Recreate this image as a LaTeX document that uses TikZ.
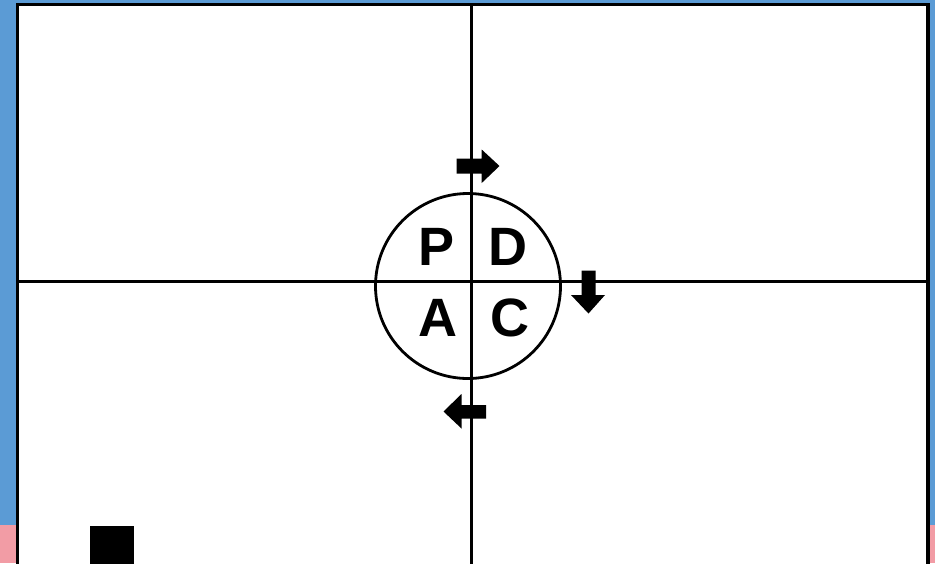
\documentclass[tikz,border=0pt]{standalone}
\usepackage{fontspec}
\setmainfont{Liberation Sans}
\definecolor{bgblue}{HTML}{5B9BD5}
\definecolor{bgpink}{HTML}{F29CA5}
\begin{document}
\begin{tikzpicture}[x=1pt,y=-1pt,
  letter/.style={font=\fontsize{54}{54}\selectfont\bfseries, inner sep=0pt, anchor=center},
  blockarrow/.style={fill=black, draw=none},
  axis/.style={line width=2.3pt, draw=black}]
\useasboundingbox (0,0) rectangle (935,563);
\begin{scope}
\clip (0,0) rectangle (935,563);
\fill[bgblue] (0,0) rectangle (935,563);
\fill[bgpink] (0,525) rectangle (935,563);
\filldraw[fill=white, draw=black, line width=3.5pt] (17.5,4.5) rectangle (928,590);
\coordinate (T) at (471.5,6);
\coordinate (B) at (471.5,570);
\coordinate (L) at (19,281.5);
\coordinate (R) at (926,281.5);
\draw[axis] (T) -- (B);
\draw[axis] (L) -- (R);
\node[circle, draw, line width=2.8pt, minimum size=185pt, inner sep=0pt] (cyc) at (468,286) {};
\node[letter] (P) at (436.5,246.5) {P};
\node[letter] (D) at (508,246.5) {D};
\node[letter] (A) at (437.5,318) {A};
\node[letter] (C) at (510,318) {C};
% arrows
\fill[blockarrow] (456.7,158.5) -- (481.7,158.5) -- (481.7,149.5) -- (499.5,166) -- (481.7,183) -- (481.7,173.5) -- (456.7,173.5) -- cycle;
\fill[blockarrow] (581.5,270.5) -- (595.5,270.5) -- (595.5,295) -- (605,295) -- (588.5,313.5) -- (571,295) -- (581.5,295) -- cycle;
\fill[blockarrow] (486,405) -- (461.5,405) -- (461.5,394) -- (443.5,411.5) -- (461.5,428.5) -- (461.5,418.5) -- (486,418.5) -- cycle;
\fill[black] (90,526) rectangle (134,570);
\end{scope}
\end{tikzpicture}
\end{document}
